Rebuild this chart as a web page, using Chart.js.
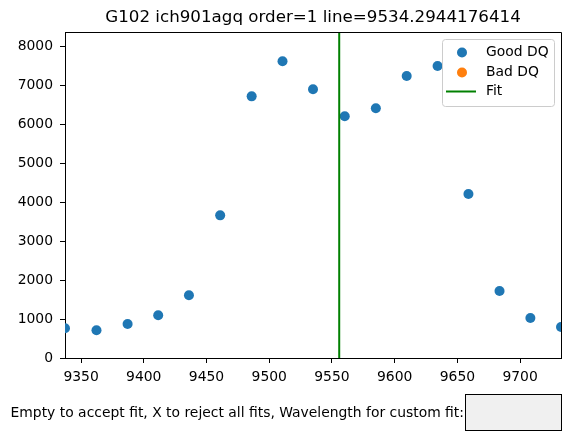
<!DOCTYPE html>
<html><head><meta charset="utf-8">
<script src="https://cdn.jsdelivr.net/npm/chart.js@4"></script>
<style>
html,body{margin:0;padding:0;background:#fff;}
#wrap{position:relative;width:570px;height:445px;overflow:hidden;}
canvas{position:absolute;left:0;top:0;}
#prompt{position:absolute;right:106px;top:404px;font:13.9px "DejaVu Sans";line-height:16px;color:#000;white-space:nowrap;}
#box{position:absolute;left:465px;top:394px;width:95px;height:35px;background:#f0f0f0;border:1px solid #000;}
</style></head>
<body><div id="wrap"><canvas id="c" width="570" height="445"></canvas><div id="prompt">Empty to accept fit, X to reject all fits, Wavelength for custom fit:</div><div id="box"></div></div>
<script>
const titleText = "G102 ich901agq order=1 line=9534.2944176414";
const goodWavelength = [9337.2, 9362.3, 9387.1, 9411.5, 9436.0, 9460.9, 9486.0, 9510.6, 9534.9, 9560.2, 9585.0, 9609.6, 9634.2, 9658.8, 9683.6, 9708.2, 9732.6];
const goodFlux = [763, 712, 874, 1097, 1611, 3667, 6726, 7627, 6907, 6213, 6419, 7250, 7506, 4216, 1722, 1029, 797];
const badWavelength = [];
const badFlux = [];
const fitWavelength = 9555.8;
const xTicks = [9350, 9400, 9450, 9500, 9550, 9600, 9650, 9700];
const yTicks = [0, 1000, 2000, 3000, 4000, 5000, 6000, 7000, 8000];
const xRange = [9337.2, 9732.6];
const yRange = [0, 8380];
const seriesLabels = ["Good DQ", "Bad DQ", "Fit"];

const FONT = '"DejaVu Sans", sans-serif';
const toPts = (xs, ys) => xs.map((x, i) => ({x: x, y: ys[i]}));

const overlay = {
  id: 'overlay',
  afterDraw(chart) {
    const ctx = chart.ctx, a = chart.chartArea;
    ctx.save();
    ctx.strokeStyle = '#000'; ctx.lineWidth = 1;
    ctx.beginPath();
    ctx.moveTo(a.left, a.top + 0.5); ctx.lineTo(a.right + 0.5, a.top + 0.5);
    ctx.lineTo(a.right + 0.5, a.bottom);
    ctx.stroke();
    ctx.fillStyle = '#000';
    ctx.font = '16.7px ' + FONT;
    ctx.textAlign = 'center'; ctx.textBaseline = 'alphabetic';
    ctx.fillText(titleText, (a.left + a.right) / 2, 22);
    const w = 112, h = 67;
    const lx = a.right - 7 - w, ly = a.top + 7;
    ctx.fillStyle = 'rgba(255,255,255,0.8)';
    ctx.strokeStyle = '#cccccc';
    ctx.beginPath();
    ctx.roundRect(lx + 0.5, ly + 0.5, w, h, 3);
    ctx.fill(); ctx.stroke();
    ctx.font = '13.9px ' + FONT;
    ctx.textAlign = 'left'; ctx.textBaseline = 'middle';
    const rows = [13.5, 33.5, 52.5];
    chart.data.datasets.forEach((ds, i) => {
      const y = ly + rows[i];
      if (ds.type === 'line') {
        ctx.strokeStyle = ds.borderColor; ctx.lineWidth = 2;
        ctx.beginPath(); ctx.moveTo(lx + 4, y); ctx.lineTo(lx + 34, y); ctx.stroke();
      } else {
        ctx.fillStyle = ds.backgroundColor;
        ctx.beginPath(); ctx.arc(lx + 20, y, 5, 0, Math.PI * 2); ctx.fill();
      }
      ctx.fillStyle = '#000';
      ctx.fillText(ds.label, lx + 44, y);
    });
    ctx.restore();
  }
};

new Chart(document.getElementById('c'), {
  data: {
    datasets: [
      {type: 'scatter', label: seriesLabels[0], data: toPts(goodWavelength, goodFlux),
       backgroundColor: '#1f77b4', borderColor: '#1f77b4', pointRadius: 5, pointBorderWidth: 0, clip: 0, order: 2},
      {type: 'scatter', label: seriesLabels[1], data: toPts(badWavelength, badFlux),
       backgroundColor: '#ff7f0e', borderColor: '#ff7f0e', pointRadius: 5, pointBorderWidth: 0, clip: 0, order: 1},
      {type: 'line', label: seriesLabels[2], data: [{x: fitWavelength, y: yRange[0]}, {x: fitWavelength, y: yRange[1]}],
       borderColor: '#008000', borderWidth: 2, pointRadius: 0, fill: false, clip: 0, order: 0}
    ]
  },
  options: {
    responsive: false, animation: false, devicePixelRatio: 1,
    layout: {padding: {left: 0, right: 9, top: 32, bottom: 57}},
    plugins: {legend: {display: false}, title: {display: false}, tooltip: {enabled: false}},
    scales: {
      x: {
        type: 'linear', position: 'bottom', min: xRange[0], max: xRange[1],
        afterBuildTicks: s => { s.ticks = xTicks.map(v => ({value: v})); },
        afterFit: s => { s.height = 30; },
        grid: {drawOnChartArea: false, drawTicks: true, tickLength: 5, color: '#000', tickWidth: 1},
        border: {display: true, color: '#000', width: 1},
        ticks: {color: '#000', font: {family: FONT, size: 13.9}, padding: 6, maxRotation: 0, autoSkip: false,
                callback: v => String(v)}
      },
      y: {
        type: 'linear', position: 'left', min: yRange[0], max: yRange[1],
        afterBuildTicks: s => { s.ticks = yTicks.map(v => ({value: v})); },
        afterFit: s => { s.width = 65; },
        grid: {drawOnChartArea: false, drawTicks: true, tickLength: 5, color: '#000', tickWidth: 1},
        border: {display: true, color: '#000', width: 1},
        ticks: {color: '#000', font: {family: FONT, size: 13.9}, padding: 7, autoSkip: false,
                callback: v => String(v)}
      }
    }
  },
  plugins: [overlay]
});
</script>
</body></html>
